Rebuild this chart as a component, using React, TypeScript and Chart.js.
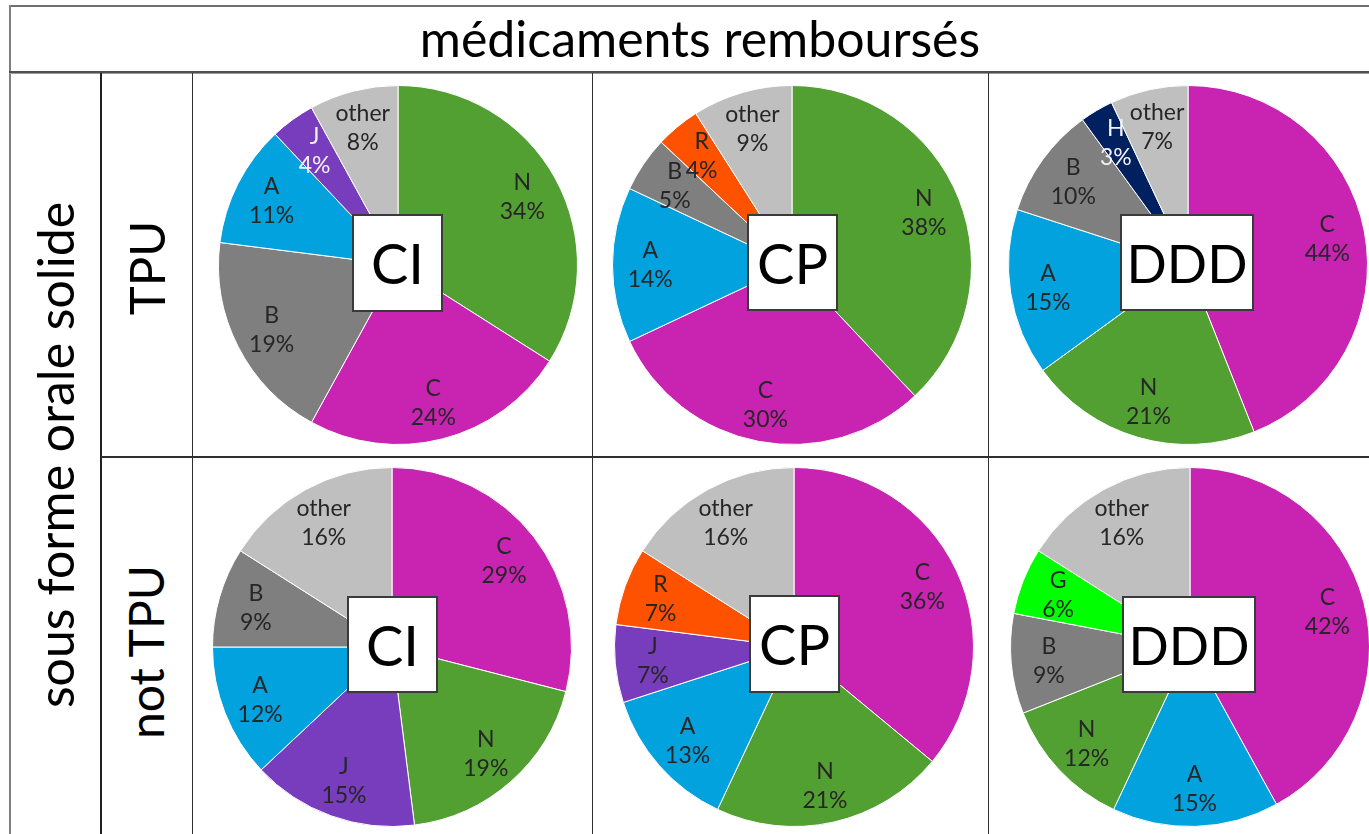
import React, { useEffect, useRef } from 'react';
import { Chart, registerables } from 'chart.js';

Chart.register(...registerables);

// ---- Data ----
const titleText = 'médicaments remboursés';
const groupLabel = 'sous forme orale solide';
const rowLabels = ['TPU', 'not TPU'];
const measureLabels = ['CI', 'CP', 'DDD'];

const tpuCiCategories = ['N', 'C', 'B', 'A', 'J', 'other'];
const tpuCiValues = [34, 24, 19, 11, 4, 8];

const tpuCpCategories = ['N', 'C', 'A', 'B', 'R', 'other'];
const tpuCpValues = [38, 30, 14, 5, 4, 9];

const tpuDddCategories = ['C', 'N', 'A', 'B', 'H', 'other'];
const tpuDddValues = [44, 21, 15, 10, 3, 7];

const notTpuCiCategories = ['C', 'N', 'J', 'A', 'B', 'other'];
const notTpuCiValues = [29, 19, 15, 12, 9, 16];

const notTpuCpCategories = ['C', 'N', 'A', 'J', 'R', 'other'];
const notTpuCpValues = [36, 21, 13, 7, 7, 16];

const notTpuDddCategories = ['C', 'A', 'N', 'B', 'G', 'other'];
const notTpuDddValues = [42, 15, 12, 9, 6, 16];

// ---- Styles ----
const COLORS: Record<string, string> = {
  N: '#53A032',
  C: '#C823B1',
  B: '#7F7F7F',
  A: '#02A2DF',
  J: '#773DBD',
  other: '#BFBFBF',
  R: '#FF5200',
  H: '#002060',
  G: '#00FF00',
};

const FONT = 'Lato, "Open Sans", sans-serif';
const R = 179;

type PieProps = {
  categories: string[];
  values: number[];
  cx: number;
  cy: number;
  light: string[];
};

function Pie({ categories, values, cx, cy, light }: PieProps) {
  const ref = useRef<HTMLCanvasElement | null>(null);
  const size = 2 * R + 2;
  useEffect(() => {
    if (!ref.current) return;
    const labelPlugin = {
      id: 'sliceLabels',
      afterDatasetsDraw(chart: any) {
        const ctx = chart.ctx;
        const meta = chart.getDatasetMeta(0);
        const ds = chart.data.datasets[0];
        meta.data.forEach((arc: any, i: number) => {
          const p = arc.getProps(['x', 'y', 'startAngle', 'endAngle', 'outerRadius'], true);
          const mid = (p.startAngle + p.endAngle) / 2;
          const rr = p.outerRadius * 0.79;
          const x = p.x + Math.cos(mid) * rr;
          const y = p.y + Math.sin(mid) * rr;
          const cat = chart.data.labels[i];
          ctx.save();
          ctx.font = `23px ${FONT}`;
          ctx.textAlign = 'center';
          ctx.textBaseline = 'middle';
          ctx.fillStyle = light.includes(cat) ? '#F2F2F2' : '#262626';
          ctx.fillText(cat, x, y - 14);
          ctx.fillText(`${ds.data[i]}%`, x, y + 15);
          ctx.restore();
        });
      },
    };
    const chart = new Chart(ref.current, {
      type: 'pie',
      data: {
        labels: categories,
        datasets: [
          {
            data: values,
            backgroundColor: categories.map((c) => COLORS[c]),
            borderColor: '#FFFFFF',
            borderWidth: 1,
          },
        ],
      },
      options: {
        responsive: false,
        animation: false,
        events: [],
        layout: { padding: 0 },
        plugins: { legend: { display: false }, tooltip: { enabled: false } },
      },
      plugins: [labelPlugin],
    });
    return () => chart.destroy();
  }, []);
  return (
    <canvas
      ref={ref}
      width={size}
      height={size}
      style={{ position: 'absolute', left: cx - size / 2, top: cy - size / 2 }}
    />
  );
}

function Box({ x, y, w, h, text }: { x: number; y: number; w: number; h: number; text: string }) {
  return (
    <div
      style={{
        position: 'absolute',
        left: x,
        top: y,
        width: w,
        height: h,
        boxSizing: 'border-box',
        border: '2px solid #3A3A3A',
        background: '#FFFFFF',
        display: 'flex',
        alignItems: 'center',
        justifyContent: 'center',
        fontFamily: FONT,
        fontSize: text.length > 2 ? 53 : 56,
        color: '#000',
        lineHeight: 1,
      }}
    >
      {text}
    </div>
  );
}

function Line({ x, y, w, h, c }: { x: number; y: number; w: number; h: number; c: string }) {
  return <div style={{ position: 'absolute', left: x, top: y, width: w, height: h, background: c }} />;
}

function Rotated({ cx, cy, text, size }: { cx: number; cy: number; text: string; size: number }) {
  return (
    <div
      style={{
        position: 'absolute',
        left: cx,
        top: cy,
        transform: 'translate(-50%, -50%) rotate(-90deg)',
        whiteSpace: 'nowrap',
        fontFamily: FONT,
        fontSize: size,
        color: '#000',
        lineHeight: 1,
      }}
    >
      {text}
    </div>
  );
}

export default function App() {
  const pies = [
    { categories: tpuCiCategories, values: tpuCiValues, cx: 398, cy: 265, light: ['J'] },
    { categories: tpuCpCategories, values: tpuCpValues, cx: 792, cy: 265, light: [] },
    { categories: tpuDddCategories, values: tpuDddValues, cx: 1188, cy: 265, light: ['H'] },
    { categories: notTpuCiCategories, values: notTpuCiValues, cx: 392, cy: 647, light: [] },
    { categories: notTpuCpCategories, values: notTpuCpValues, cx: 794, cy: 647, light: [] },
    { categories: notTpuDddCategories, values: notTpuDddValues, cx: 1190, cy: 647, light: [] },
  ];
  const boxes = [
    { x: 352, y: 214, w: 91, h: 98, text: measureLabels[0] },
    { x: 747, y: 214, w: 91, h: 97, text: measureLabels[1] },
    { x: 1120, y: 214, w: 134, h: 97, text: measureLabels[2] },
    { x: 347, y: 596, w: 91, h: 97, text: measureLabels[0] },
    { x: 749, y: 595, w: 91, h: 98, text: measureLabels[1] },
    { x: 1122, y: 596, w: 134, h: 97, text: measureLabels[2] },
  ];
  return (
    <div
      style={{
        position: 'fixed',
        left: 0,
        top: 0,
        width: 1369,
        height: 834,
        overflow: 'hidden',
        background: '#FFFFFF',
      }}
    >
      {pies.map((p, i) => (
        <Pie key={i} {...p} />
      ))}
      {boxes.map((b, i) => (
        <Box key={i} {...b} />
      ))}
      {/* table lines */}
      <Line x={9} y={5} w={1360} h={2} c="#707070" />
      <Line x={9} y={5} w={2} h={829} c="#808080" />
      <Line x={9} y={71} w={1360} h={2} c="#505050" />
      <Line x={9} y={73} w={1360} h={1} c="#9A9A9A" />
      <Line x={100} y={73} w={2} h={761} c="#202020" />
      <Line x={192} y={73} w={1} h={761} c="#303030" />
      <Line x={592} y={73} w={1} h={761} c="#303030" />
      <Line x={988} y={73} w={1} h={761} c="#303030" />
      <Line x={101} y={456} w={1268} h={2} c="#303030" />
      {/* title */}
      <div
        style={{
          position: 'absolute',
          left: 0,
          top: 6,
          width: 1400,
          height: 64,
          display: 'flex',
          alignItems: 'center',
          justifyContent: 'center',
          fontFamily: FONT,
          fontSize: 50,
          color: '#000',
        }}
      >
        {titleText}
      </div>
      <Rotated cx={55} cy={455} text={groupLabel} size={50} />
      <Rotated cx={146} cy={268} text={rowLabels[0]} size={49} />
      <Rotated cx={146} cy={652} text={rowLabels[1]} size={48} />
    </div>
  );
}
